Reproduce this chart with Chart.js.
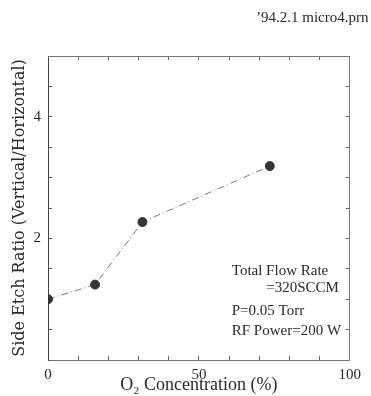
<!DOCTYPE html>
<html>
<head>
<meta charset="utf-8">
<script src="https://cdn.jsdelivr.net/npm/chart.js@4.4.1/dist/chart.umd.min.js"></script>
<style>
  body { margin: 0; background: #fff; }
  #wrap { width: 371px; height: 396px; position: relative; }
</style>
</head>
<body>
<div id="wrap"><canvas id="etchchart"></canvas></div>
<script>
// O2 concentration (%) and side etch ratio
var o2conc = [0, 15.6, 31.3, 73.5]
var etchratio = [1.0, 1.24, 2.27, 3.19]
var xlabelticks = [0, 50, 100]
var ylabelticks = [2, 4]
var notes = ['Total Flow Rate', '=320SCCM', 'P=0.05 Torr', 'RF Power=200 W']
var header = '\u201994.2.1 micro4.prn'

var pts = []
for (var i = 0; i < o2conc.length; i++) {
    pts.push({x: o2conc[i], y: etchratio[i]})
}

var serif = 'Liberation Serif'
var ink = '#2a2a2a'

// header line and the condition notes inside the plot
var textPlugin = {
    id: 'textPlugin',
    afterDraw: function(chart) {
        var c = chart.ctx
        var xs = chart.scales.x, ys = chart.scales.y
        c.save()
        c.fillStyle = ink
        c.textBaseline = 'alphabetic'
        c.font = '15px "' + serif + '"'
        c.textAlign = 'left'
        c.fillText(header, 256, 22)

        var left = xs.getPixelForValue(60.9)
        c.fillText(notes[0], left, ys.getPixelForValue(1.40))
        c.textAlign = 'right'
        c.fillText(notes[1], xs.getPixelForValue(96.4), ys.getPixelForValue(1.12))
        c.textAlign = 'left'
        c.fillText(notes[2], left, ys.getPixelForValue(0.74))
        c.fillText(notes[3], left, ys.getPixelForValue(0.41))
        c.restore()
    }
}

function fixSize(prop, val) {
    return function(scale) { scale[prop] = val }
}

var ctx = document.getElementById('etchchart').getContext('2d');
var etchChart = new Chart(ctx, {
    type: 'line',
    data: {
        datasets: [{
            data: pts,
            xAxisID: 'x',
            yAxisID: 'y',
            borderColor: '#7a7a7a',
            borderWidth: 1,
            borderDash: [7, 3, 1, 3],
            pointRadius: 4.5,
            pointBackgroundColor: '#353535',
            pointBorderColor: '#353535',
            pointBorderWidth: 1,
            tension: 0
        }]
    },
    options: {
        responsive: true,
        maintainAspectRatio: false,
        animation: false,
        layout: { padding: 0 },
        plugins: {
            legend: { display: false },
            tooltip: { enabled: false }
        },
        scales: {
            x: {
                type: 'linear',
                position: 'bottom',
                min: 0, max: 100,
                afterFit: fixSize('height', 36),
                border: { display: true, color: '#777', width: 1, dash: [5, 2] },
                grid: { drawOnChartArea: false, drawTicks: true, tickLength: -4, color: '#666' },
                ticks: {
                    stepSize: 10,
                    autoSkip: false,
                    maxRotation: 0,
                    padding: 10,
                    color: ink,
                    font: { family: serif, size: 15 },
                    callback: function(v) { return xlabelticks.indexOf(v) >= 0 ? String(v) : '' }
                },
                title: {
                    display: true,
                    text: 'O\u2082 Concentration (%)',
                    color: ink,
                    font: { family: serif, size: 18 },
                    padding: { top: 0, bottom: 0 }
                }
            },
            y: {
                type: 'linear',
                position: 'left',
                min: 0, max: 5,
                afterFit: fixSize('width', 48),
                border: { display: true, color: '#444', width: 1 },
                grid: { drawOnChartArea: false, drawTicks: true, tickLength: -4, color: '#555' },
                ticks: {
                    stepSize: 0.5,
                    autoSkip: false,
                    padding: 11,
                    color: ink,
                    font: { family: serif, size: 15 },
                    callback: function(v) { return ylabelticks.indexOf(v) >= 0 ? String(v) : '' }
                },
                title: {
                    display: true,
                    text: 'Side Etch Ratio (Vertical/Horizontal)',
                    color: ink,
                    font: { family: 'DejaVu Serif', size: 16 },
                    padding: { top: 10, bottom: 0 }
                }
            },
            x2: {
                type: 'linear',
                position: 'top',
                min: 0, max: 100,
                afterFit: fixSize('height', 56),
                border: { display: true, color: '#777', width: 1, dash: [5, 2] },
                grid: { drawOnChartArea: false, drawTicks: true, tickLength: -4, color: '#666' },
                ticks: {
                    stepSize: 10,
                    autoSkip: false,
                    display: false
                }
            },
            y2: {
                type: 'linear',
                position: 'right',
                min: 0, max: 5,
                afterFit: fixSize('width', 19),
                border: { display: true, color: '#777', width: 1, dash: [5, 2] },
                grid: { drawOnChartArea: false, drawTicks: true, tickLength: -4, color: '#666' },
                ticks: {
                    stepSize: 0.5,
                    autoSkip: false,
                    display: false
                }
            }
        }
    },
    plugins: [textPlugin]
});
</script>
</body>
</html>
